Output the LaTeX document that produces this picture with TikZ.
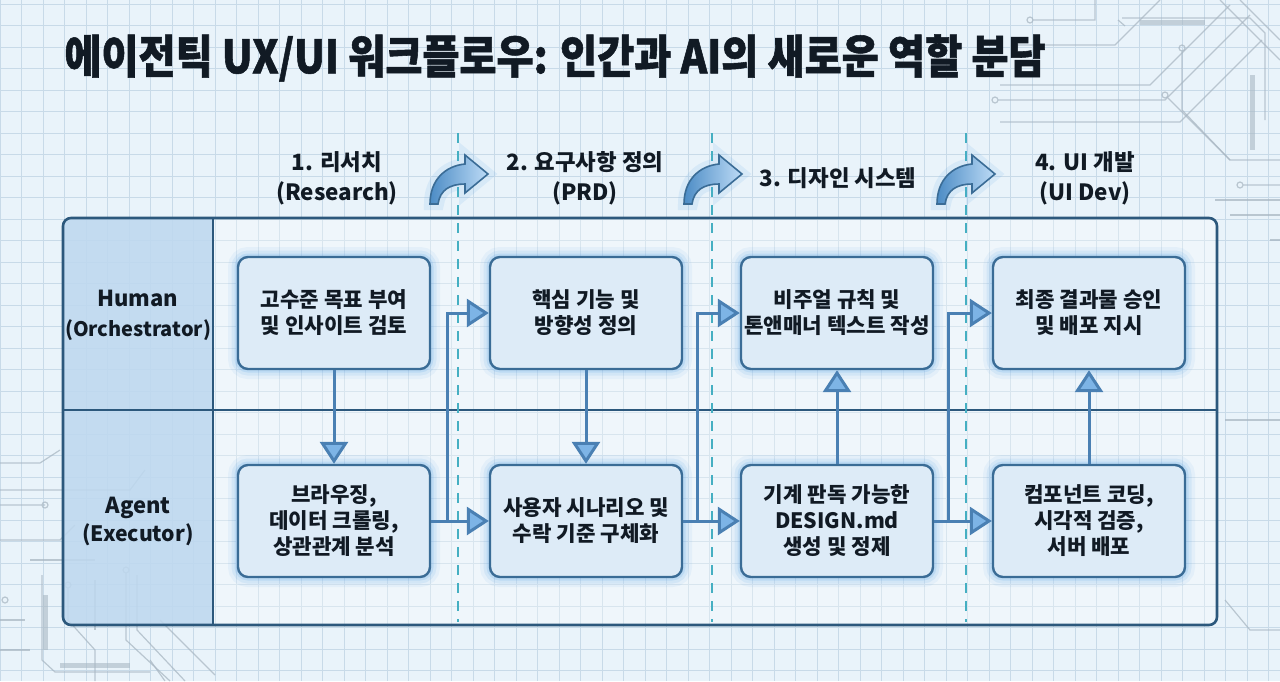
\documentclass[tikz,border=0pt]{standalone}
\usepackage{fontspec}
\setmainfont{Noto Sans CJK KR}
\newfontfamily\titlefont{Noto Sans CJK KR}[FakeStretch=0.88, BoldFeatures={FakeBold=1.2}]
\usetikzlibrary{arrows.meta}
\definecolor{bgc}{HTML}{E9F3FA}
\definecolor{gridc}{HTML}{C8DAE8}
\definecolor{framec}{HTML}{2C587C}
\definecolor{colfill}{HTML}{B9D5EE}
\definecolor{boxfill}{HTML}{DDEBF7}
\definecolor{boxdraw}{HTML}{3A6C96}
\definecolor{glowc}{HTML}{5AA5E8}
\definecolor{connc}{HTML}{4A80B3}
\definecolor{arrowfill}{HTML}{7DB4E6}
\definecolor{dashc}{HTML}{45AFC2}
\definecolor{textc}{HTML}{111A24}
\definecolor{tracec}{HTML}{A9B7C3}
\begin{document}
\begin{tikzpicture}[x=0.5pt,y=-0.5pt,
  gridline/.style={draw=gridc, line width=0.45pt},
  trace/.style={draw=tracec, line width=0.6pt, opacity=0.75},
  tracebar/.style={draw=tracec, line width=2.5pt, opacity=0.6},
  box/.style={draw=boxdraw, line width=1.2pt, fill=boxfill, rounded corners=5pt,
    minimum width=96pt, minimum height=56pt, align=center, inner sep=0pt,
    font=\bfseries\fontsize{10.6}{13}\selectfont, text=textc,
    preaction={draw=glowc, line width=10pt, opacity=0.08},
    preaction={draw=glowc, line width=6.5pt, opacity=0.12},
    preaction={draw=glowc, line width=3.5pt, opacity=0.18}},
  conn/.style={draw=connc, line width=1.5pt, -{Triangle[length=11pt,width=14pt,fill=arrowfill]}},
  plainline/.style={draw=connc, line width=1.5pt},
  hdr/.style={align=center, font=\bfseries\fontsize{11.2}{15}\selectfont, text=textc},
  rowlbl/.style={align=center, font=\bfseries\fontsize{11}{15}\selectfont, text=textc},
  dashline/.style={draw=dashc, line width=1.1pt, dash pattern=on 5pt off 4pt},
  hdrarrow/.style={draw=boxdraw, line width=0.8pt, left color=glowc!85!black, right color=glowc!40,
    preaction={draw=glowc, line width=6pt, opacity=0.12}}
]
\useasboundingbox (0,0) rectangle (1280,681);
\fill[bgc] (0,0) rectangle (1280,681);
\foreach \x in {0,21.5,...,1280} \draw[gridline] (\x,0) -- (\x,681);
\foreach \y in {4,25.5,...,681} \draw[gridline] (0,\y) -- (1280,\y);

% circuit traces, top right
\draw[trace] (1030,20) circle (3) (1033,20) -- (1095,20) -- (1095,0);
\draw[trace] (1015,45) circle (3) (1018,45) -- (1115,45) -- (1160,0);
\draw[trace] (1000,85) -- (1150,85) -- (1230,5);
\draw[trace] (995,100) circle (3) (998,100) -- (1165,100) -- (1250,15);
\draw[trace] (1000,122) -- (1180,122) -- (1262,40);
\draw[trace] (1118,20) -- (1125,26) (1122,18) -- (1250,18) -- (1265,33) -- (1265,120);
\draw[tracebar] (1140,22) -- (1205,22);
\draw[tracebar] (1252,75) -- (1252,150);
\draw[trace] (1182,48) circle (3) (1182,51) -- (1182,110) -- (1230,160) -- (1280,160);
\draw[trace] (1165,95) circle (3) (1168,98) -- (1230,160);
\draw[trace] (1220,0) -- (1280,60);
\draw[trace] (1240,0) -- (1280,40);
\draw[trace] (1215,200) -- (1280,200);
\draw[trace] (1230,215) -- (1280,215);
\draw[trace] (1240,185) circle (3) (1243,185) -- (1280,185);
\draw[trace] (1270,240) -- (1280,240);
% circuit traces, bottom left
\draw[trace] (0,463) -- (40,463) -- (60,450);
\draw[trace] (0,490) -- (130,490) -- (145,470);
\draw[trace] (0,505) -- (45,505) circle (3);
\draw[trace] (0,540) -- (60,540) -- (75,525);
\draw[trace] (30,560) -- (95,560);
\draw[trace] (42,575) -- (42,660) -- (55,672) -- (150,672);
\draw[tracebar] (45,595) -- (45,650);
\draw[tracebar] (60,665) -- (130,665);
\draw[trace] (68,585) circle (3) (68,588) -- (68,620) -- (95,650) -- (95,681);
\draw[trace] (95,580) -- (95,630);
\draw[trace] (126,570) circle (3) (126,573) -- (126,640) -- (170,681);
\draw[trace] (137,575) -- (137,630) -- (185,681);
\draw[trace] (160,620) -- (215,675);
\draw[trace] (150,660) -- (165,681);
\draw[trace] (0,650) -- (30,650);
\draw[trace] (0,620) -- (25,620);
\draw[trace] (5,600) circle (3);
% right edge bits
\draw[trace] (1225,420) -- (1280,420);
\draw[trace] (1225,600) -- (1250,630) -- (1280,630);

% frame interior
\fill[white, opacity=0.3, rounded corners=4pt] (63,218) rectangle (1217,625);
\begin{scope}
  \clip[rounded corners=4pt] (63,218) rectangle (1217,625);
  \fill[colfill, opacity=0.8] (63,218) rectangle (213,625);
\end{scope}
\draw[framec, line width=1.1pt] (213,218) -- (213,625);
\draw[framec, line width=1.1pt] (63,410) -- (1217,410);

% dashed phase separators
\draw[dashline] (458,133) -- (458,622);
\draw[dashline] (712,133) -- (712,622);
\draw[dashline] (966,133) -- (966,622);

\draw[framec, line width=1.3pt, rounded corners=4pt] (63,218) rectangle (1217,625);

% row labels
\node[rowlbl] (hum) at (138,315) {Human\\{\fontsize{10}{15}\selectfont (Orchestrator)}};
\node[rowlbl, font=\bfseries\fontsize{11}{14}\selectfont] (agt) at (138,521) {Agent\\{\fontsize{10.6}{14}\selectfont (Executor)}};

% boxes
\node[box] (h1) at (334,313) {고수준 목표 부여\\및 인사이트 검토};
\node[box] (h2) at (586,313) {핵심 기능 및\\방향성 정의};
\node[box] (h3) at (837,313) {비주얼 규칙 및\\톤앤매너 텍스트 작성};
\node[box] (h4) at (1089,313) {최종 결과물 승인\\및 배포 지시};
\node[box] (a1) at (334,521) {브라우징,\\데이터 크롤링,\\상관관계 분석};
\node[box] (a2) at (586,521) {사용자 시나리오 및\\수락 기준 구체화};
\node[box] (a3) at (837,521) {기계 판독 가능한\\DESIGN.md\\생성 및 정제};
\node[box] (a4) at (1089,521) {컴포넌트 코딩,\\시각적 검증,\\서버 배포};

% connectors
\coordinate (j1) at (447,521);
\coordinate (j2) at (697,521);
\coordinate (j3) at (948,521);
\draw[conn] (h1.south) -- (a1.north);
\draw[plainline] (a1.east) -- (j1);
\draw[conn] (j1) -- (a2.west);
\draw[conn] (j1) |- (h2.west);
\draw[conn] (h2.south) -- (a2.north);
\draw[plainline] (a2.east) -- (j2);
\draw[conn] (j2) -- (a3.west);
\draw[conn] (j2) |- (h3.west);
\draw[conn] (a3.north) -- (h3.south);
\draw[plainline] (a3.east) -- (j3);
\draw[conn] (j3) -- (a4.west);
\draw[conn] (j3) |- (h4.west);
\draw[conn] (a4.north) -- (h4.south);

% header curved arrows
\foreach \sx in {430,684,937}
  \path[hdrarrow, shift={(\sx,0)}] (0,204) .. controls (0,180) and (15,166) .. (35,164)
    -- (35,155) -- (58,174) -- (35,193) -- (35,184) .. controls (20,184) and (10,190) .. (8,204) -- cycle;

% phase headers
\node[hdr] (p1) at (337,178) {1. 리서치\\(Research)};
\node[hdr] (p2) at (585,178) {2. 요구사항 정의\\(PRD)};
\node[hdr] (p3) at (838,178) {3. 디자인 시스템};
\node[hdr] (p4) at (1085,178) {4. UI 개발\\(UI Dev)};

% title
\node[anchor=west, inner sep=0pt, text=textc, font=\titlefont\bfseries\fontsize{22.9}{26}\selectfont] (title) at (64,58)
  {에이전틱 UX/UI 워크플로우: 인간과 AI의 새로운 역할 분담};
\end{tikzpicture}
\end{document}
